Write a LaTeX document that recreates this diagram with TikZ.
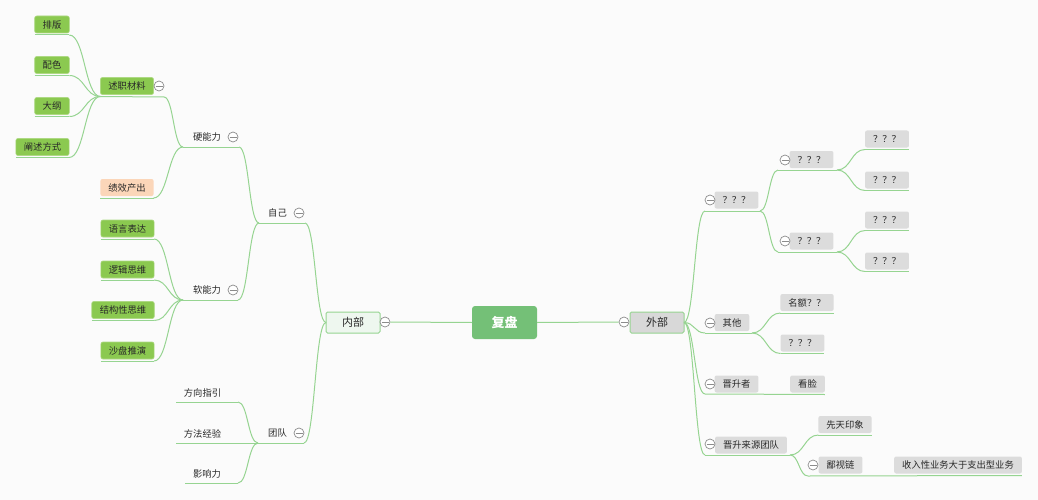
\documentclass[tikz,border=0pt]{standalone}
\usepackage{fontspec}
\setmainfont{Noto Sans CJK SC}
\usetikzlibrary{calc,positioning}
\definecolor{linecolor}{RGB}{150,212,145}
\definecolor{leafgreen}{RGB}{139,201,80}
\definecolor{peach}{RGB}{251,214,185}
\definecolor{boxgrey}{RGB}{220,220,220}
\definecolor{rootgreen}{RGB}{116,192,119}
\definecolor{foldgrey}{RGB}{140,140,140}
\definecolor{textgrey}{RGB}{40,40,40}
\definecolor{bg}{RGB}{251,251,251}

\begin{document}
\begin{tikzpicture}[x=1pt,y=-1pt, font=\fontsize{9.3}{10}\selectfont, text=textgrey,
  every node/.style={inner ysep=0pt, outer xsep=0pt},
  link/.style={draw=linecolor, line width=1pt},
  curve/.style={to path={.. controls ($(\tikztostart)!0.5!(\tikztotarget|-\tikztostart)$) and ($(\tikztotarget)!0.5!(\tikztostart|-\tikztotarget)$) .. (\tikztotarget)}},
  box/.style={rounded corners=2pt, minimum height=17pt, inner xsep=8pt, outer ysep=2pt},
  leaf/.style={box, fill=leafgreen, draw=leafgreen!70!white, line width=0.6pt},
  result/.style={box, fill=peach},
  grey/.style={box, fill=boxgrey},
  plain/.style={inner sep=0pt},
  root/.style={rounded corners=3pt, fill=rootgreen, text=white, minimum width=65pt, minimum height=33pt, font=\fontsize{13}{14}\selectfont\bfseries},
  mainl/.style={rounded corners=1.5pt, fill=rootgreen!12!white, draw=linecolor, line width=1pt, minimum width=54pt, minimum height=21pt, font=\fontsize{11}{12}\selectfont},
  mainr/.style={mainl, fill=boxgrey!98!black},
  fold/.style={circle, draw=foldgrey, fill=white, minimum size=10pt, inner sep=0pt, line width=0.7pt,
    path picture={\draw[foldgrey, line width=0.7pt] ([xshift=-3.5pt]path picture bounding box.center) -- ([xshift=3.5pt]path picture bounding box.center);}}]

  \fill[bg] (0,0) rectangle (1038,500);
  \useasboundingbox (0,0) rectangle (1038,500);

  \node[root] (fp) at (504.5,322.5) {复盘};

  \node[mainl] (nb) at (353,322.5) {内部};
  \node[fold] (c-nb) at (385,322) {};

  \node[plain] (zj) at (277.5,213) {自己};
  \node[fold] (c-zj) at (299,213) {};
  \coordinate (zj-l) at (259,223);
  \coordinate (zj-r) at (305,223);

  \node[plain] (yn) at (207,137) {硬能力};
  \node[fold] (c-yn) at (233,137) {};
  \coordinate (yn-l) at (183,147);
  \coordinate (yn-r) at (239,147);

  \node[leaf] (sz) at (127,86) {述职材料};
  \node[fold] (c-sz) at (159,86) {};
  \coordinate (sz-r) at (164,97);

  \node[leaf] (pb) at (52,24.5) {排版};
  \node[leaf] (ps) at (52,65) {配色};
  \node[leaf] (dg) at (52,106) {大纲};
  \node[leaf] (cs) at (42.5,147) {阐述方式};

  \node[result] (jx) at (127,187.5) {绩效产出};

  \node[plain] (rn) at (207,290) {软能力};
  \node[fold] (c-rn) at (233,290) {};
  \coordinate (rn-l) at (183,300);
  \coordinate (rn-r) at (238,300);

  \node[leaf] (yy) at (127.5,228.5) {语言表达};
  \node[leaf] (lj) at (127.5,269.5) {逻辑思维};
  \node[leaf] (jg) at (123,310) {结构性思维};
  \node[leaf] (sp) at (127.5,350.5) {沙盘推演};

  \node[plain] (td) at (277.5,433) {团队};
  \node[fold] (c-td) at (299,433) {};
  \coordinate (td-l) at (258,443);
  \coordinate (td-r) at (304,443);

  \node[plain] (fx) at (202.5,393) {方向指引};
  \coordinate (fx-l) at (176,402);
  \coordinate (fx-r) at (238,402);
  \node[plain] (ff) at (202.5,434) {方法经验};
  \coordinate (ff-l) at (176,443);
  \coordinate (ff-r) at (238,443);
  \node[plain] (yx) at (207,474) {影响力};
  \coordinate (yx-l) at (185,483);
  \coordinate (yx-r) at (238,483);

  \node[mainr] (wb) at (657,322.5) {外部};
  \node[fold] (c-wb) at (624,322) {};

  \node[grey, minimum width=43pt] (q) at (736.5,200) {？？？};
  \node[fold] (c-q) at (710,200) {};
  \coordinate (q-l) at (705,211);
  \coordinate (q-r) at (760,211);

  \node[grey, minimum width=43pt] (qa) at (811.5,159.5) {？？？};
  \node[fold] (c-qa) at (785,160) {};
  \coordinate (qa-l) at (778,170);
  \coordinate (qa-r) at (837,170);

  \node[grey, minimum width=43pt] (qb) at (811.5,241) {？？？};
  \node[fold] (c-qb) at (785,241) {};
  \coordinate (qb-l) at (778,252);
  \coordinate (qb-r) at (837,252);

  \node[grey, minimum width=43pt] (q1) at (887,139) {？？？};
  \node[grey, minimum width=43pt] (q2) at (887,180) {？？？};
  \node[grey, minimum width=43pt] (q3) at (887,220) {？？？};
  \node[grey, minimum width=43pt] (q4) at (887,261) {？？？};

  \node[grey] (qt) at (732,322.5) {其他};
  \node[fold] (c-qt) at (710,323) {};
  \coordinate (qt-l) at (705,333);
  \coordinate (qt-r) at (752,333);

  \node[grey, minimum width=52pt] (me) at (807,302.5) {名额？？};
  \node[grey, minimum width=43pt] (qq) at (802.5,343) {？？？};

  \node[grey] (js) at (736.5,384) {晋升者};
  \node[fold] (c-js) at (710,384) {};
  \coordinate (js-l) at (705,394);
  \node[grey] (kl) at (807.5,384) {看脸};

  \node[grey] (jt) at (751,445) {晋升来源团队};
  \node[fold] (c-jt) at (710,444) {};
  \coordinate (jt-l) at (705,455);
  \coordinate (jt-r) at (790,455);

  \node[grey] (xt) at (845,424.5) {先天印象};
  \node[grey] (bs) at (840.5,465) {鄙视链};
  \node[fold] (c-bs) at (813,465) {};
  \coordinate (bs-l) at (808,476);
  \node[grey] (sr) at (958,465) {收入性业务大于支出型业务};

  \draw[link] (fp.west) -- (c-nb.east);
  \draw[link] (nb.west) to[curve] (zj-r);
  \draw[link] (nb.west) to[curve] (td-r);
  \draw[link] (zj-l) -- (zj-r);
  \draw[link] (zj-l) to[curve] (yn-r);
  \draw[link] (zj-l) to[curve] (rn-r);
  \draw[link] (yn-l) -- (yn-r);
  \draw[link] (yn-l) to[curve] (sz-r);
  \draw[link] (yn-l) to[curve] (jx.south east);
  \draw[link] (sz.south west) -- (sz-r);
  \draw[link] (sz.south west) to[curve] (pb.south east);
  \draw[link] (sz.south west) to[curve] (ps.south east);
  \draw[link] (sz.south west) to[curve] (dg.south east);
  \draw[link] (sz.south west) to[curve] (cs.south east);
  \draw[link] (pb.south west) -- (pb.south east);
  \draw[link] (ps.south west) -- (ps.south east);
  \draw[link] (dg.south west) -- (dg.south east);
  \draw[link] (cs.south west) -- (cs.south east);
  \draw[link] (jx.south west) -- (jx.south east);
  \draw[link] (rn-l) -- (rn-r);
  \draw[link] (rn-l) to[curve] (yy.south east);
  \draw[link] (rn-l) to[curve] (lj.south east);
  \draw[link] (rn-l) to[curve] (jg.south east);
  \draw[link] (rn-l) to[curve] (sp.south east);
  \draw[link] (yy.south west) -- (yy.south east);
  \draw[link] (lj.south west) -- (lj.south east);
  \draw[link] (jg.south west) -- (jg.south east);
  \draw[link] (sp.south west) -- (sp.south east);
  \draw[link] (td-l) -- (td-r);
  \draw[link] (td-l) to[curve] (fx-r);
  \draw[link] (td-l) to[curve] (ff-r);
  \draw[link] (td-l) to[curve] (yx-r);
  \draw[link] (fx-l) -- (fx-r);
  \draw[link] (ff-l) -- (ff-r);
  \draw[link] (yx-l) -- (yx-r);

  \draw[link] (fp.east) -- (c-wb.west);
  \draw[link] (wb.east) to[curve] (q-l);
  \draw[link] (wb.east) to[curve] (qt-l);
  \draw[link] (wb.east) to[curve] (js-l);
  \draw[link] (wb.east) to[curve] (jt-l);
  \draw[link] (q-l) -- (q-r);
  \draw[link] (q-r) to[curve] (qa-l);
  \draw[link] (q-r) to[curve] (qb-l);
  \draw[link] (qa-l) -- (qa-r);
  \draw[link] (qb-l) -- (qb-r);
  \draw[link] (qa-r) to[curve] (q1.south west);
  \draw[link] (qa-r) to[curve] (q2.south west);
  \draw[link] (qb-r) to[curve] (q3.south west);
  \draw[link] (qb-r) to[curve] (q4.south west);
  \draw[link] (q1.south west) -- (q1.south east);
  \draw[link] (q2.south west) -- (q2.south east);
  \draw[link] (q3.south west) -- (q3.south east);
  \draw[link] (q4.south west) -- (q4.south east);
  \draw[link] (qt-l) -- (qt-r);
  \draw[link] (qt-r) to[curve] (me.south west);
  \draw[link] (qt-r) to[curve] (qq.south west);
  \draw[link] (me.south west) -- (me.south east);
  \draw[link] (qq.south west) -- (qq.south east);
  \draw[link] (js-l) -- (kl.south east);
  \draw[link] (jt-l) -- (jt-r);
  \draw[link] (jt-r) to[curve] (xt.south west);
  \draw[link] (jt-r) to[curve] (bs-l);
  \draw[link] (xt.south west) -- (xt.south east);
  \draw[link] (bs-l) -- (sr.south east);
\end{tikzpicture}
\end{document}
